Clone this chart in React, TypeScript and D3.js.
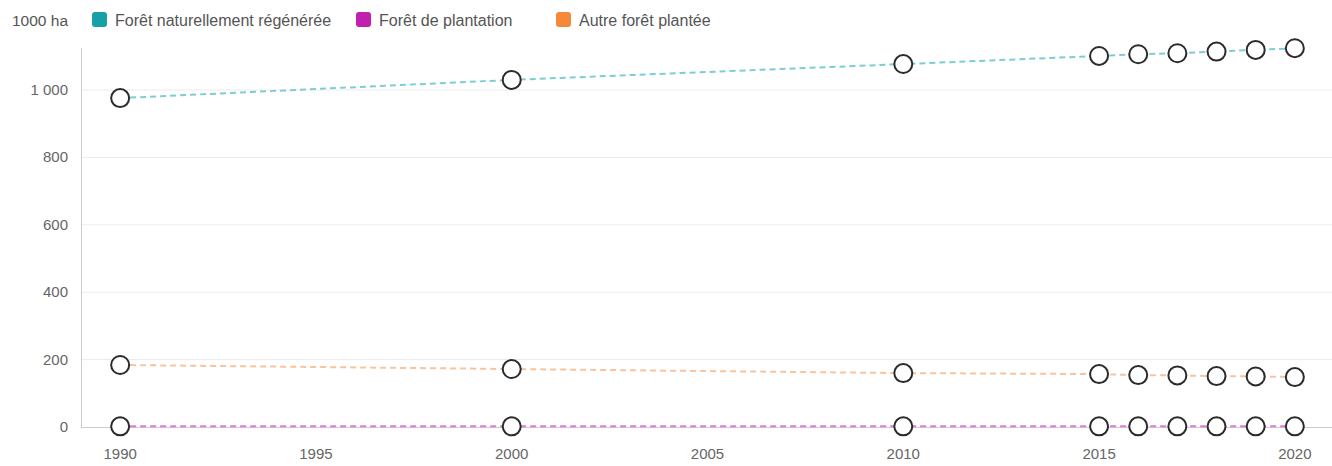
import { useEffect, useRef } from "react";
import * as d3 from "d3";

const years = [1990, 2000, 2010, 2015, 2016, 2017, 2018, 2019, 2020];
const naturelle = [976, 1030, 1077, 1101, 1106, 1109, 1114, 1119, 1124];
const plantation = [2, 2, 2, 2, 2, 2, 2, 2, 2];
const autre = [184, 172, 160, 157, 154, 153, 151, 150, 148];
const yTicks = [0, 200, 400, 600, 800, 1000];
const xTicks = [1990, 1995, 2000, 2005, 2010, 2015, 2020];

const series = [
  { name: "Forêt naturellement régénérée", values: naturelle, swatch: "#17a0a8", line: "#7fcdd4" },
  { name: "Forêt de plantation", values: plantation, swatch: "#c01fb0", line: "#dc7fd5" },
  { name: "Autre forêt plantée", values: autre, swatch: "#f5883a", line: "#f9c49b" },
];

const width = 1332;
const height = 466;

export default function App() {
  const svgRef = useRef<SVGSVGElement | null>(null);

  useEffect(() => {
    if (!svgRef.current) return;
    const svg = d3.select(svgRef.current);
    svg.selectAll("*").remove();

    const font = "'Liberation Sans', Arial, sans-serif";
    const x = d3.scaleLinear().domain([1989, 2021]).range([81, 1334]);
    const y = d3.scaleLinear().domain([0, 1000]).range([427, 90]);

    // grid
    svg.append("g")
      .selectAll("line")
      .data(yTicks.filter(t => t > 0))
      .enter()
      .append("line")
      .attr("x1", 81).attr("x2", width)
      .attr("y1", d => y(d)).attr("y2", d => y(d))
      .attr("stroke", "#ebebeb").attr("stroke-width", 1);

    // axes lines
    svg.append("line")
      .attr("x1", 81.5).attr("x2", 81.5)
      .attr("y1", y(1125)).attr("y2", y(0))
      .attr("stroke", "#cccccc");
    svg.append("line")
      .attr("x1", 81).attr("x2", width)
      .attr("y1", y(0) + 0.5).attr("y2", y(0) + 0.5)
      .attr("stroke", "#cccccc");

    // y tick labels
    svg.append("g")
      .selectAll("text")
      .data(yTicks)
      .enter()
      .append("text")
      .attr("x", 68)
      .attr("y", d => y(d) + 5)
      .attr("text-anchor", "end")
      .attr("font-family", font)
      .attr("font-size", 15)
      .attr("fill", "#666")
      .text(d => d3.format(",")(d).replace(",", " "));

    // x tick labels
    svg.append("g")
      .selectAll("text")
      .data(xTicks)
      .enter()
      .append("text")
      .attr("x", d => x(d))
      .attr("y", 459)
      .attr("text-anchor", "middle")
      .attr("font-family", font)
      .attr("font-size", 15)
      .attr("fill", "#666")
      .text(d => String(d));

    const line = d3.line<number>()
      .x((_d, i) => x(years[i]))
      .y(d => y(d));

    // lines first
    series.forEach(s => {
      svg.append("path")
        .datum(s.values)
        .attr("d", line)
        .attr("fill", "none")
        .attr("stroke", s.line)
        .attr("stroke-width", 2)
        .attr("stroke-dasharray", "6,4");
    });

    // points
    series.forEach(s => {
      svg.append("g")
        .selectAll("circle")
        .data(s.values)
        .enter()
        .append("circle")
        .attr("cx", (_d, i) => x(years[i]))
        .attr("cy", d => y(d))
        .attr("r", 9)
        .attr("fill", "#fff")
        .attr("stroke", "#2b2b2b")
        .attr("stroke-width", 2);
    });

    // legend
    const legend = svg.append("g").attr("font-family", font).attr("font-size", 16);
    legend.append("text")
      .attr("x", 12).attr("y", 26)
      .attr("font-size", 15.5)
      .attr("fill", "#555")
      .text("1000 ha");
    const legendX = [92, 356, 556];
    series.forEach((s, i) => {
      legend.append("rect")
        .attr("x", legendX[i]).attr("y", 12)
        .attr("width", 15).attr("height", 15)
        .attr("rx", 3)
        .attr("fill", s.swatch);
      legend.append("text")
        .attr("x", legendX[i] + 23).attr("y", 26)
        .attr("fill", "#555")
        .text(s.name);
    });
  }, []);

  return (
    <svg
      ref={svgRef}
      width={width}
      height={height}
      style={{ position: "absolute", left: 0, top: 0, background: "#fff" }}
    />
  );
}
